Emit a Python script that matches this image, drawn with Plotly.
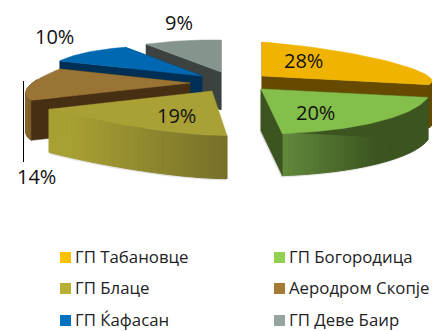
import math
import plotly.graph_objects as go

categories = ["ГП Табановце", "ГП Богородица", "ГП Блаце", "Аеродром Скопје", "ГП Ќафасан", "ГП Деве Баир"]
values = [28, 20, 19, 14, 10, 9]
top_colors = ["#F0B400", "#85BF4B", "#A9A135", "#9A7434", "#0068B0", "#85958D"]
swatch_colors = ["#FFC000", "#92D050", "#B8AF36", "#A47A35", "#0070C0", "#95A59D"]
face_colors = ["#654A00", "#3C5520", "#6E6A22", "#472F14", "#002F55", "#3B4240"]
wall_light = ["#8A6600", "#62893C", "#A8A033", "#8A6A30", "#004A80", "#5A6660"]
wall_dark = ["#654A00", "#3C5520", "#77702A", "#7A5C28", "#002F55", "#3B4240"]

# geometry of the perspective drawing:
# apex x, y, rx at start/end, ry at start/end, height, shear, shading ramp x0, x1
GEOM = [
    (262, 76, 170, 170, 34, 20, 43, 5, 282, 380),
    (261, 89, 170, 170, 45, 45, 42, 0, 282, 375),
    (212, 91, 120, 186, 45, 38, 43, 0, 70, 225),
    (190, 83, 181, 140, 36, 38, 40, 0, 24, 34),
    (202, 76, 153, 143, 41, 34, 40, 0, 0, 1),
    (221, 72, 140, 140, 33, 32, 38, 0, 0, 1),
]
LABEL_XY = [(303, 60), (315, 112), (176, 115), (36, 176), (54, 36), (179, 22)]
LEG_X = [60, 274]
LEG_Y = [257.5, 288.5, 320.5]


def lerp_hex(a, b, t):
    ca = [int(a[i:i + 2], 16) for i in (1, 3, 5)]
    cb = [int(b[i:i + 2], 16) for i in (1, 3, 5)]
    return "rgb(%d,%d,%d)" % tuple(round(p + (q - p) * t) for p, q in zip(ca, cb))


def rim(g, t0, t1, n=40):
    ax, ay, rxa, rxb, rya, ryb, _, s = g[:8]
    pts = []
    for i in range(n + 1):
        f = i / n
        th = math.radians(t0 + (t1 - t0) * f)
        rx = rxa + (rxb - rxa) * f
        ry = rya + (ryb - rya) * f
        pts.append((ax + rx * math.sin(th), ay - ry * math.cos(th) + s * math.sin(th)))
    return pts


def poly(fig, pts, color, width=0.5):
    fig.add_trace(go.Scatter(
        x=[p[0] for p in pts] + [pts[0][0]], y=[p[1] for p in pts] + [pts[0][1]],
        mode="lines", fill="toself", fillcolor=color, line=dict(color=color, width=width),
        hoverinfo="skip", showlegend=False))


fig = go.Figure()
total = sum(values)
spans = []
acc = 0
for v in values:
    spans.append((acc / total * 360, (acc + v) / total * 360))
    acc += v

for i in [5, 4, 3, 2, 0, 1]:
    g = GEOM[i]
    t0, t1 = spans[i]
    ax, ay, h = g[0], g[1], g[6]
    x0, x1 = g[8], g[9]
    r = rim(g, t0, t1)
    n = len(r) - 1
    # soft shadow under the lower front slices
    if i in (1, 2):
        sh = [(p[0] - 1, p[1] + h + 1.5) for p in r] + [(ax - 1, ay + h + 1.5), (ax - 1, ay + 4)]
        poly(fig, sh, "#E2E2E2")
    # outer wall, shaded piecewise
    for k in range(n):
        a, b = r[k], r[k + 1]
        th = t0 + (t1 - t0) * k / n
        if 90 < th < 275:
            shade = min(1, max(0, ((a[0] + b[0]) / 2 - x0) / (x1 - x0)))
            c = lerp_hex(wall_light[i], wall_dark[i], shade)
            poly(fig, [a, b, (b[0], b[1] + h), (a[0], a[1] + h)], c, width=1)
    # cut faces
    if i != 2:
        poly(fig, [(ax, ay), r[0], (r[0][0], r[0][1] + h), (ax, ay + h)], face_colors[i])
        poly(fig, [(ax, ay), r[-1], (r[-1][0], r[-1][1] + h), (ax, ay + h)], face_colors[i])
    # top
    poly(fig, [(ax, ay)] + r, top_colors[i])

annotations = []
for v, (x, y) in zip(values, LABEL_XY):
    annotations.append(dict(x=x, y=y, text=f"{v}%", showarrow=False, xanchor="center", yanchor="middle",
                            font=dict(family="Open Sans", size=20, color="#111111")))

for i, (name, col) in enumerate(zip(categories, swatch_colors)):
    lx, ly = LEG_X[i % 2], LEG_Y[i // 2]
    fig.add_trace(go.Scatter(x=[lx + 5.5], y=[ly], mode="markers", name=name, showlegend=False,
                             hoverinfo="skip", marker=dict(symbol="square", size=11, color=col)))
    annotations.append(dict(x=lx + 13, y=ly - 1, text=name, showarrow=False, xanchor="left", yanchor="middle",
                            font=dict(family="Open Sans", size=16.8, color="#222222")))

fig.update_layout(
    width=432, height=331, autosize=False, margin=dict(l=0, r=0, t=0, b=0),
    paper_bgcolor="white", plot_bgcolor="white", showlegend=False,
    xaxis=dict(range=[0, 432], visible=False, fixedrange=True),
    yaxis=dict(range=[331, 0], visible=False, fixedrange=True),
    annotations=annotations,
    shapes=[dict(type="line", x0=23.5, x1=23.5, y0=81, y1=162, line=dict(color="black", width=1))],
)
fig.write_html("out.html", config={"displayModeBar": False},
               post_script="document.body.style.margin='0';")
